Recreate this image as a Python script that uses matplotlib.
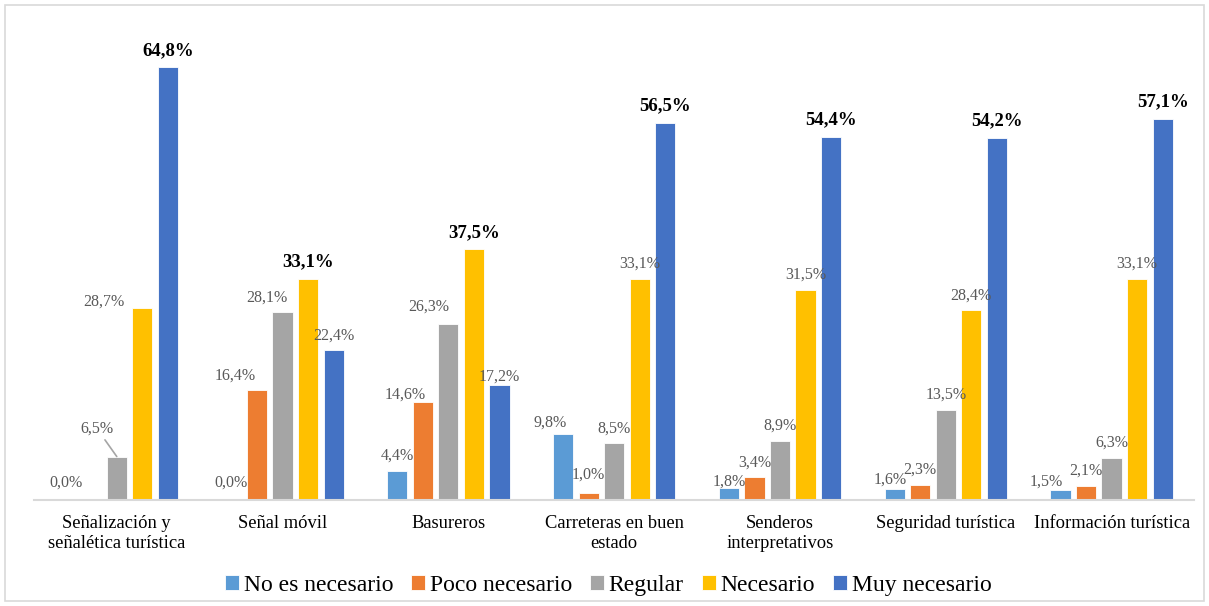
import matplotlib
matplotlib.use('Agg')
import matplotlib.pyplot as plt
from matplotlib.patches import Rectangle
import numpy as np

# ----------------------------------------------------------------------------------------------------------------------
#  DATA
# ----------------------------------------------------------------------------------------------------------------------
categories = ['Señalización y\nseñalética turística', 'Señal móvil', 'Basureros',
              'Carreteras en buen\nestado', 'Senderos\ninterpretativos',
              'Seguridad turística', 'Información turística']
series_names = ['No es necesario', 'Poco necesario', 'Regular', 'Necesario', 'Muy necesario']
no_es_necesario = [0.0, 0.0, 4.4, 9.8, 1.8, 1.6, 1.5]
poco_necesario  = [np.nan, 16.4, 14.6, 1.0, 3.4, 2.3, 2.1]
regular         = [6.5, 28.1, 26.3, 8.5, 8.9, 13.5, 6.3]
necesario       = [28.7, 33.1, 37.5, 33.1, 31.5, 28.4, 33.1]
muy_necesario   = [64.8, 22.4, 17.2, 56.5, 54.4, 54.2, 57.1]

# ----------------------------------------------------------------------------------------------------------------------
#  STYLE
# ----------------------------------------------------------------------------------------------------------------------
colors = ['#5B9BD5', '#ED7D31', '#A5A5A5', '#FFC000', '#4472C4']
plt.rcParams['font.family'] = ['Liberation Serif', 'DejaVu Serif']

# label offsets in points (category, series) -> (dx, dy); default (0, 5)
label_offsets = {(0, 0): (0, 7), (1, 0): (0, 7),
                 (0, 2): (-14, 14), (0, 3): (-28, -1),
                 (1, 1): (-16, 5), (1, 2): (-11.5, 5),
                 (2, 1): (-13, 0), (2, 2): (-14, 7), (2, 4): (0, 0),
                 (3, 0): (-9, 3), (3, 1): (0, 8),
                 (4, 0): (0, -1), (5, 0): (-3, 1), (6, 0): (-10, 0)}

values = np.array([no_es_necesario, poco_necesario, regular, necesario, muy_necesario])
x = np.arange(len(categories))
step = 0.154
width = 0.122

fig = plt.figure(figsize=(12.09, 6.06), dpi=100)
ax = fig.add_axes([0.028, 0.175, 0.96, 0.7715])

for j in range(len(series_names)):
    xpos = x + (j - 2) * step
    ax.bar(xpos, np.nan_to_num(values[j]), width, color=colors[j], edgecolor='white',
           linewidth=0.6, label=series_names[j])

    for i in range(len(categories)):
        v = values[j, i]
        if np.isnan(v):
            continue
        is_max = v == np.nanmax(values[:, i])
        dx, dy = label_offsets.get((i, j), (0, 5))
        txt = ('%.1f%%' % v).replace('.', ',')
        if (i, j) == (0, 2):
            ax.annotate(txt, xy=(xpos[i], v), xytext=(dx, dy), textcoords='offset points',
                        ha='center', va='bottom', fontsize=11.5, color='#595959',
                        arrowprops=dict(arrowstyle='-', color='#A5A5A5', lw=1.2,
                                        shrinkA=0, shrinkB=0))
        elif is_max:
            ax.annotate(txt, xy=(xpos[i], v), xytext=(dx, dy + 1), textcoords='offset points',
                        ha='center', va='bottom', fontsize=13.5, fontweight='bold', color='black')
        else:
            ax.annotate(txt, xy=(xpos[i], v), xytext=(dx, dy), textcoords='offset points',
                        ha='center', va='bottom', fontsize=11.5, color='#595959')

ax.set_xlim(-0.5, len(categories) - 0.5)
ax.set_ylim(0, 70)
ax.set_xticks(x)
ax.set_xticklabels(categories, fontsize=13.3, color='#000000', linespacing=1.25)
ax.tick_params(axis='x', length=0, pad=11)
ax.set_yticks([])
for s in ['top', 'right', 'left']:
    ax.spines[s].set_visible(False)
ax.spines['bottom'].set_color('#D9D9D9')
ax.spines['bottom'].set_linewidth(1.5)

leg = fig.legend(loc='center', bbox_to_anchor=(0.503, 0.034), ncol=5, frameon=False,
                 fontsize=17, handlelength=0.6, handleheight=0.6, handletextpad=0.2,
                 columnspacing=0.75)

# figure border
fig.patches.append(Rectangle((5 / 1209, 5 / 606), 1 - 10 / 1209, 1 - 10 / 606,
                             transform=fig.transFigure, fill=False,
                             edgecolor='#D9D9D9', linewidth=1.2))

fig.savefig('out.png', dpi=100)
